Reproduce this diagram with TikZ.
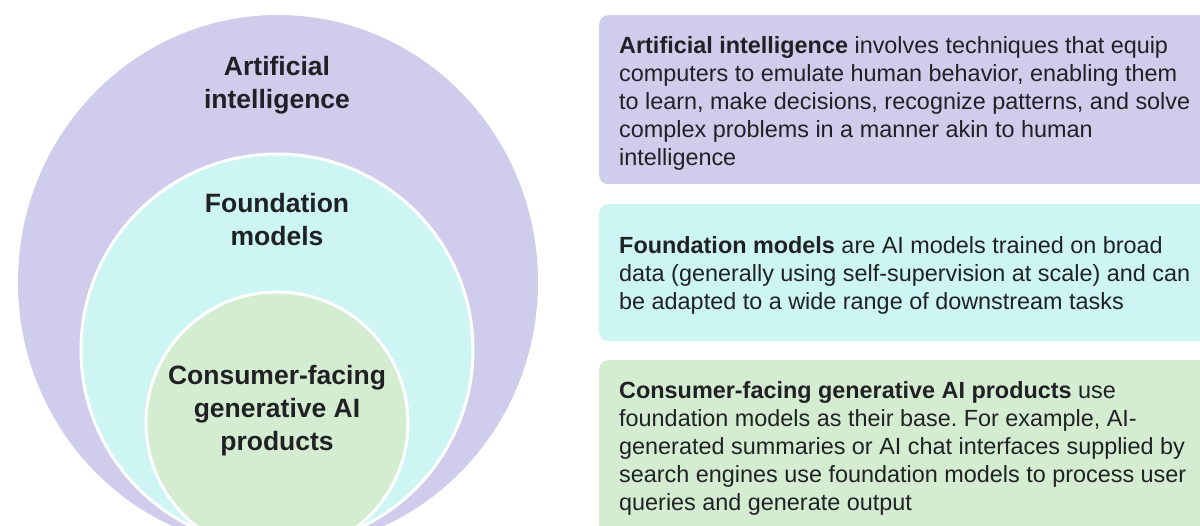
\documentclass[tikz,border=0pt]{standalone}
\usepackage{fontspec}
\setmainfont{Liberation Sans}
\usetikzlibrary{shapes.geometric}
\definecolor{aipurple}{HTML}{CFCCEC}
\definecolor{fmcyan}{HTML}{CCF5F3}
\definecolor{gagreen}{HTML}{D4EDD0}
\definecolor{inktext}{HTML}{202124}
\frenchspacing

\begin{document}
\begin{tikzpicture}[x=1pt, y=-1pt,
        ring/.style={circle, draw=white, line width=3pt, inner sep=0pt},
        ringtitle/.style={align=center, text=inktext, font=\bfseries\fontsize{26.5}{33}\selectfont},
        infobox/.style={rectangle, rounded corners=9pt, inner sep=0pt, anchor=north west, minimum width=620pt},
        infotext/.style={align=left, anchor=north west, inner sep=0pt, text=inktext, font=\fontsize{23.4}{28}\selectfont}]
        \useasboundingbox (0,0) rectangle (1200,526);
        \clip (0,0) rectangle (1200,526);

        % nested rings
        \node[ellipse, fill=aipurple, inner sep=0pt, minimum width=520pt, minimum height=534pt] (AI) at (278,282) {};
        \node[ring, fill=fmcyan, minimum size=392pt] (Foundation) at (277,350) {};
        \node[ring, fill=gagreen, minimum size=262pt] (Consumer) at (277,423) {};

        \node[ringtitle] (AITitle) at (277,85) {
            Artificial\\intelligence
        };
        \node[ringtitle] (FoundationTitle) at (277,220) {
            Foundation\\models
        };
        \node[ringtitle] (ConsumerTitle) at (277,411) {
            Consumer-facing\\generative AI\\products
        };

        % explanations on the right
        \node[infobox, fill=aipurple, minimum height=169pt] (AIBox) at (599,15) {};
        \node[infobox, fill=fmcyan, minimum height=137pt] (FoundationBox) at (599,204) {};
        \node[infobox, fill=gagreen, minimum height=190pt] (ConsumerBox) at (599,360) {};

        \node[infotext] (AIText) at (619,36) {
            \textbf{Artificial intelligence} involves techniques that equip\\
            computers to emulate human behavior, enabling them\\
            to learn, make decisions, recognize patterns, and solve\\
            complex problems in a manner akin to human\\
            intelligence
        };
        \node[infotext] (FoundationText) at (619,236) {
            \textbf{Foundation models} are AI models trained on broad\\
            data (generally using self-supervision at scale) and can\\
            be adapted to a wide range of downstream tasks
        };
        \node[infotext] (ConsumerText) at (619,381) {
            \textbf{Consumer-facing generative AI products} use\\
            foundation models as their base. For example, AI-\\
            generated summaries or AI chat interfaces supplied by\\
            search engines use foundation models to process user\\
            queries and generate output
        };
\end{tikzpicture}
\end{document}
